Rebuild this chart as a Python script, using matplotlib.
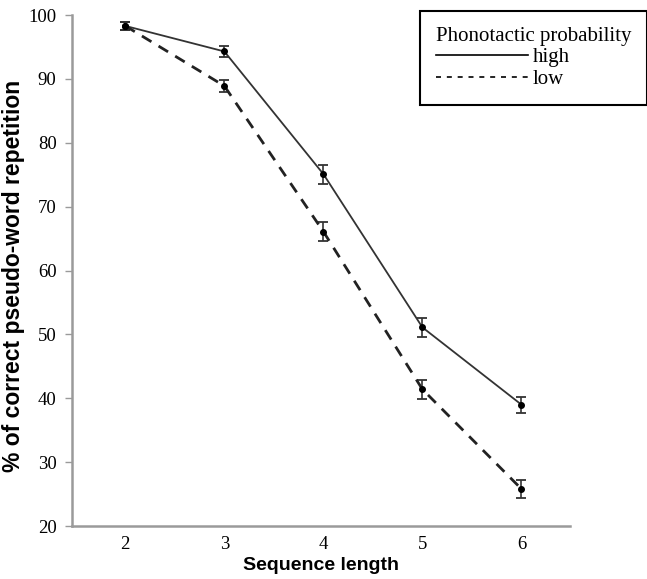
import numpy as np
import matplotlib.pyplot as plt

seq_len = [2, 3, 4, 5, 6]
high = [98.3, 94.3, 75.1, 51.1, 39.0]
high_err = [0.6, 0.85, 1.5, 1.5, 1.25]
low = [98.3, 88.9, 66.1, 41.4, 25.8]
low_err = [0.6, 1.0, 1.5, 1.5, 1.4]

serif = ['Liberation Serif', 'DejaVu Serif']
sans = ['Liberation Sans', 'DejaVu Sans']

fig = plt.figure(figsize=(6.47, 5.79), dpi=100)
ax = fig.add_axes([0.111, 0.0915, 0.77, 0.8825])

ax.errorbar(seq_len, high, yerr=high_err, color='#333333', lw=1.3,
            ls='-', marker='o', ms=4, mfc='black', mec='black',
            ecolor='#333333', elinewidth=1.2, capsize=3.8, capthick=1.3,
            label='high')
ax.errorbar(seq_len, low, yerr=low_err, color='#222222', lw=2.0,
            ls=(0, (4, 3)), marker='o', ms=4, mfc='black', mec='black',
            ecolor='#333333', elinewidth=1.2, capsize=3.8, capthick=1.3,
            label='low')

ax.set_xlim(1.46, 6.49)
ax.set_ylim(20, 100)
ax.set_xticks(seq_len)
ax.set_yticks(np.arange(20, 101, 10))

for s in ['top', 'right']:
    ax.spines[s].set_visible(False)
for s in ['left', 'bottom']:
    ax.spines[s].set_color('#9a9a9a')
    ax.spines[s].set_linewidth(1.8)

ax.tick_params(axis='y', direction='out', length=5, color='#9a9a9a', width=1, pad=6)
ax.tick_params(axis='x', length=0, pad=7)
for lab in ax.get_xticklabels() + ax.get_yticklabels():
    lab.set_family(serif)
    lab.set_fontsize(13.5)

ax.set_xlabel('Sequence length', family=sans, fontweight='bold', fontsize=14, labelpad=3)
ax.set_ylabel('% of correct pseudo-word repetition', family=sans, fontweight='bold',
              fontsize=16.5)
ax.yaxis.set_label_coords(-0.094, 0.49)

# legend with errorbars stripped out of the handles
handles, labels = ax.get_legend_handles_labels()
handles = [h[0] for h in handles]
leg = ax.legend(handles, labels, title='Phonotactic probability', loc='upper right',
                bbox_to_anchor=(1.0, 0.981), bbox_transform=fig.transFigure,
                borderaxespad=0, frameon=True, fancybox=False, framealpha=1,
                edgecolor='black', handlelength=4.4, handletextpad=0.25,
                labelspacing=0.1, borderpad=0.75, alignment='left',
                prop={'family': serif, 'size': 15},
                title_fontproperties={'family': serif, 'size': 15})
leg.get_frame().set_linewidth(1.5)
for h in leg.legend_handles:
    h.set_marker('')
    h.set_color('black')
    h.set_linewidth(1.2)
leg.legend_handles[1].set_linestyle((0, (3, 3.5)))

plt.savefig('out.png', dpi=100)
